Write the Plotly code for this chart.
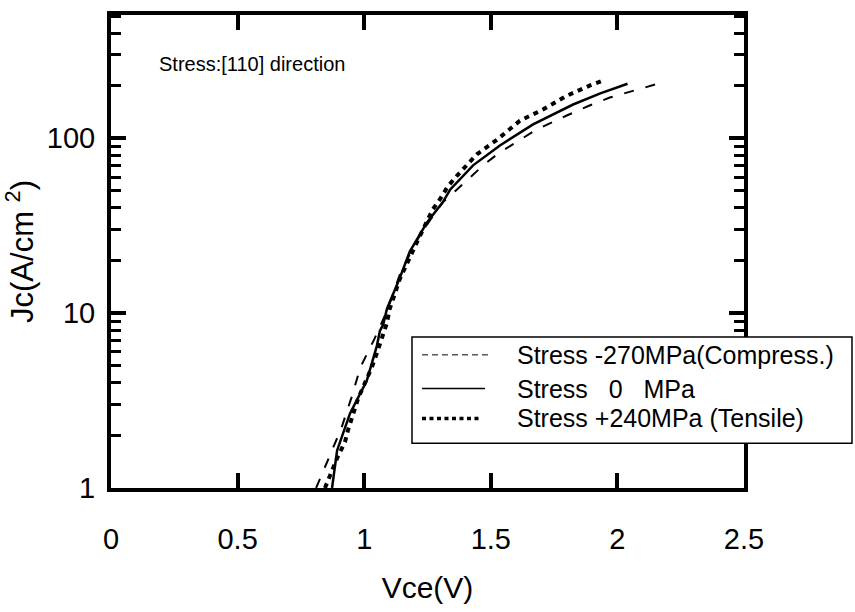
import plotly.graph_objects as go

# ---- data ----
series_names = ["Stress -270MPa(Compress.)", "Stress\u00a0\u00a0\u00a00\u00a0\u00a0\u00a0MPa", "Stress +240MPa (Tensile)"]

vce_comp = [0.81, 0.86, 0.91, 0.95, 0.985, 1.04, 1.09, 1.14, 1.20, 1.26, 1.31, 1.36, 1.41,
            1.47, 1.53, 1.59, 1.68, 1.80, 1.89, 1.97, 2.06, 2.16, 2.19]
jc_comp = [1.0, 1.5, 2.2, 3.3, 4.9, 7.1, 10.3, 16.5, 25, 34, 43, 50, 58,
           70, 82, 93, 112, 135, 154, 171, 187, 205, 211]

vce_zero = [0.873, 0.893, 0.944, 1.01, 1.05, 1.062, 1.075, 1.09, 1.14, 1.18, 1.248, 1.31,
            1.34, 1.43, 1.536, 1.667, 1.825, 1.93, 2.04]
jc_zero = [1.0, 1.64, 2.67, 4.1, 6.5, 7.9, 8.6, 10.6, 15.8, 22.5, 33, 43,
           51, 70, 91, 120, 156, 180, 205]

vce_tens = [0.845, 0.893, 0.924, 0.936, 0.976, 1.003, 1.03, 1.05, 1.07, 1.09, 1.10, 1.12,
            1.14, 1.20, 1.247, 1.27, 1.30, 1.33, 1.366, 1.41, 1.445, 1.524, 1.615, 1.706,
            1.80, 1.89, 1.94]
jc_tens = [1.0, 1.48, 1.83, 2.14, 3.25, 3.95, 4.9, 5.9, 7.2, 8.8, 10.5, 12.8,
           15.6, 24, 33, 39, 45, 53, 61, 71, 81, 98, 126, 146,
           175, 200, 213]

x_tickvals = [0, 0.5, 1, 1.5, 2, 2.5]
x_ticktext = ["0", "0.5", "1", "1.5", "2", "2.5"]
y_tickvals = [1, 10, 100]
y_ticktext = ["1", "10", "100"]

FONT = "Liberation Sans, Arial, sans-serif"

fig = go.Figure()
fig.add_trace(go.Scatter(x=vce_comp, y=jc_comp, mode="lines", name=series_names[0],
                         line=dict(color="black", width=2, dash="10px,12px"), showlegend=False))
fig.add_trace(go.Scatter(x=vce_zero, y=jc_zero, mode="lines", name=series_names[1],
                         line=dict(color="black", width=2.5), showlegend=False))
fig.add_trace(go.Scatter(x=vce_tens, y=jc_tens, mode="lines", name=series_names[2],
                         line=dict(color="black", width=4, dash="5px,5px"), showlegend=False))

fig.update_layout(
    width=855, height=612,
    margin=dict(l=111, r=111, t=11, b=124),
    paper_bgcolor="white", plot_bgcolor="white",
    font=dict(family=FONT, color="black"),
)

fig.update_xaxes(
    range=[0, 2.5], tickvals=x_tickvals, ticktext=x_ticktext,
    showline=True, linewidth=4, linecolor="black", mirror="ticks",
    ticks="inside", ticklen=15, tickwidth=4, tickcolor="black",
    showgrid=False, zeroline=False,
    tickfont=dict(size=29, family=FONT), ticklabelstandoff=22,
    title=dict(text="Vce(V)", font=dict(size=30, family=FONT), standoff=24),
)
fig.update_yaxes(
    type="log", range=[0, 2.705], tickvals=y_tickvals, ticktext=y_ticktext,
    showline=True, linewidth=4, linecolor="black", mirror="ticks",
    ticks="inside", ticklen=15, tickwidth=4, tickcolor="black",
    minor=dict(ticks="inside", ticklen=10, tickwidth=3, tickcolor="black", dtick="D1", showgrid=False),
    showgrid=False, zeroline=False,
    tickfont=dict(size=29, family=FONT), ticklabelstandoff=6,
    title=dict(text="Jc(A/cm <sup>2</sup>)", font=dict(size=31, family=FONT), standoff=6),
)

# annotation
fig.add_annotation(x=0.0727, y=0.897, xref="paper", yref="paper", xanchor="left", yanchor="middle",
                   text="Stress:[110] direction", showarrow=False, font=dict(size=20, family=FONT))

# custom legend (box, samples, labels)
fig.add_shape(type="rect", xref="paper", yref="paper", x0=0.4755, x1=1.1706, y0=0.0945, y1=0.3193,
              fillcolor="white", line=dict(color="black", width=1.5), layer="above")
rows_y = [0.2815, 0.2101, 0.1471]
sample_x1 = [0.6019, 0.5908, 0.5829]
sample_styles = [dict(color="black", width=1, dash="6px,4px"),
                 dict(color="black", width=1.5),
                 dict(color="black", width=3.5, dash="4px,3.5px")]
for i in range(3):
    fig.add_shape(type="line", xref="paper", yref="paper", x0=0.4913, x1=sample_x1[i],
                  y0=rows_y[i], y1=rows_y[i], line=sample_styles[i], layer="above")
    fig.add_annotation(x=0.6382, y=rows_y[i], xref="paper", yref="paper", xanchor="left",
                       yanchor="middle", text=series_names[i], showarrow=False,
                       font=dict(size=25, family=FONT))

fig.write_html("out.html")
